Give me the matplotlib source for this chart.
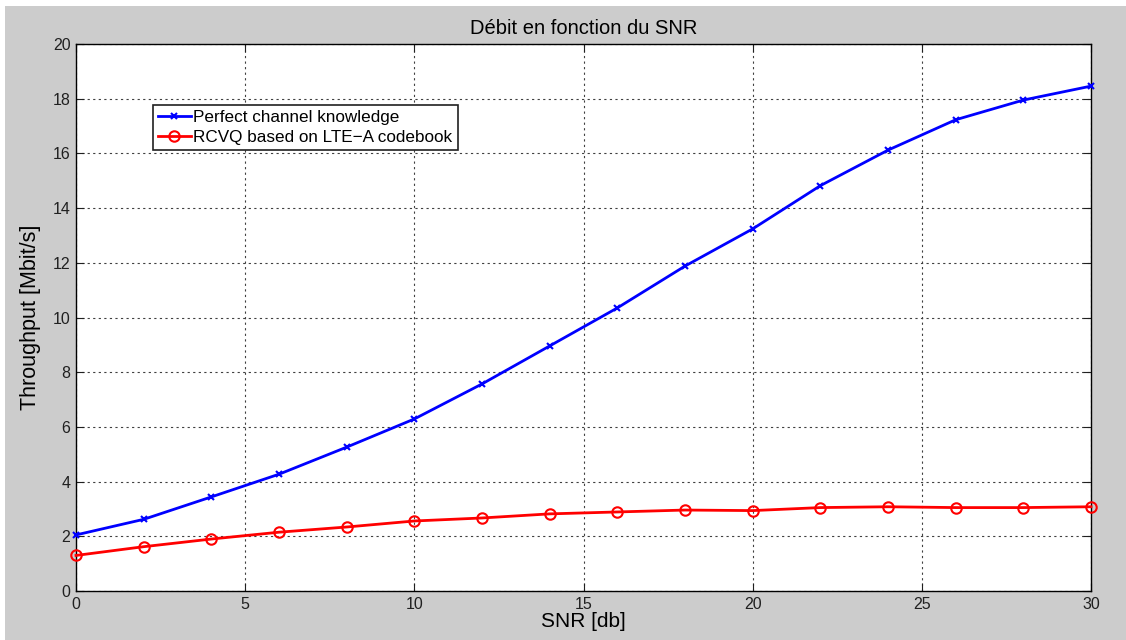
import matplotlib
matplotlib.use("Agg")
import matplotlib.pyplot as plt
from matplotlib.patches import Rectangle

plt.rcParams['font.family'] = ['Liberation Sans', 'DejaVu Sans']

snr = [0, 2, 4, 6, 8, 10, 12, 14, 16, 18, 20, 22, 24, 26, 28, 30]
perfect = [2.05, 2.62, 3.44, 4.27, 5.26, 6.29, 7.57, 8.96, 10.35, 11.88,
           13.24, 14.82, 16.12, 17.23, 17.95, 18.46]
rcvq = [1.30, 1.62, 1.90, 2.15, 2.34, 2.56, 2.67, 2.82, 2.89, 2.96,
        2.94, 3.05, 3.08, 3.05, 3.05, 3.08]

fig = plt.figure(figsize=(11.26, 6.40), dpi=100, facecolor='white')
# MATLAB-like gray figure background with thin white border top/left
fig.patches.append(Rectangle((5 / 1126, 0), 1, (640 - 6) / 640,
                             transform=fig.transFigure, facecolor='#cccccc',
                             edgecolor='none', zorder=-10))

ax = fig.add_axes([76 / 1126, 49 / 640, 1015 / 1126, 547 / 640])
ax.set_facecolor('white')

ax.plot(snr, perfect, '-x', color='#0000ff', lw=2, ms=5, mew=1.5,
        label='Perfect channel knowledge', clip_on=False, zorder=3)
ax.plot(snr, rcvq, '-o', color='#ff0000', lw=2, ms=7.5, mew=1.5,
        mfc='none', label='RCVQ based on LTE\u2212A codebook',
        clip_on=False, zorder=3)

ax.set_xlim(0, 30)
ax.set_ylim(0, 20)
ax.set_xticks(range(0, 31, 5))
ax.set_yticks(range(0, 21, 2))
ax.tick_params(direction='in', top=True, right=True, length=6,
               labelsize=11.5, colors='#202020', pad=4)
for s in ax.spines.values():
    s.set_linewidth(1.0)
ax.grid(True, color='#404040', linestyle=(0, (2, 3)), linewidth=0.8)

ax.set_title('Débit en fonction du SNR', fontsize=14.5, pad=7)
ax.set_xlabel('SNR [db]', fontsize=15, labelpad=0)
ax.set_ylabel('Throughput [Mbit/s]', fontsize=15.5, labelpad=8)

leg = ax.legend(loc='upper left', bbox_to_anchor=(0.076, 0.889),
                fontsize=12.3, fancybox=False, shadow=False,
                edgecolor='#202020', framealpha=1, borderpad=0.3,
                handlelength=1.9, handletextpad=0.15, labelspacing=0.3,
                borderaxespad=0)
leg.get_frame().set_linewidth(1.2)

fig.savefig('out.png', dpi=100, facecolor=fig.get_facecolor())
